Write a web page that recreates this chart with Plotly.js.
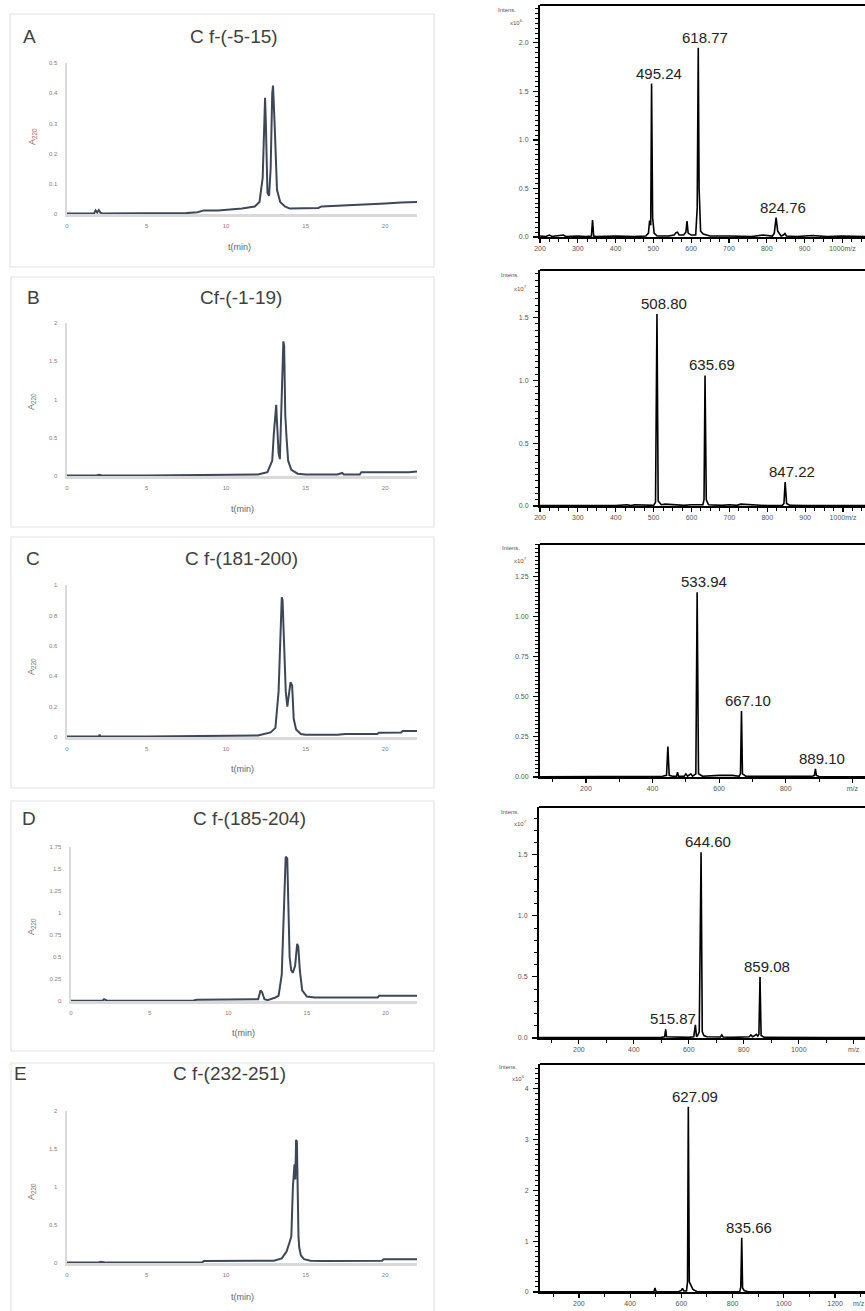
<!DOCTYPE html>
<html><head><meta charset="utf-8">
<script src="https://cdn.plot.ly/plotly-3.0.1.min.js"></script>
<style>html,body{margin:0;padding:0;background:#fff}#chart{width:865px;height:1311px}</style>
</head><body><div id="chart"></div>
<script>
// ---------- Chromatogram data (t in min, absorbance A220) ----------
const titles = ['C f-(-5-15)', 'Cf-(-1-19)', 'C f-(181-200)', 'C f-(185-204)', 'C f-(232-251)'];
const letters = ['A', 'B', 'C', 'D', 'E'];

const chromA_t = [0, 1.7, 1.8, 1.9, 2.0, 2.1, 2.2, 3, 5, 7.5, 8.2, 8.6, 9.5, 10, 11, 11.8, 12.1, 12.3, 12.4, 12.45, 12.5, 12.6, 12.7, 12.8, 12.9, 12.95, 13.05, 13.2, 13.4, 13.7, 14, 15, 15.8, 16, 17, 18, 19, 20, 21, 22];
const chromA_A = [0.002, 0.002, 0.012, 0.005, 0.013, 0.004, 0.002, 0.002, 0.002, 0.003, 0.006, 0.012, 0.012, 0.014, 0.018, 0.025, 0.04, 0.12, 0.33, 0.385, 0.3, 0.07, 0.06, 0.15, 0.4, 0.425, 0.3, 0.08, 0.04, 0.025, 0.018, 0.018, 0.02, 0.025, 0.027, 0.029, 0.032, 0.035, 0.038, 0.04];

const chromB_t = [0, 1.8, 2.0, 2.3, 5, 8, 8.1, 10, 12, 12.6, 12.9, 13.0, 13.1, 13.15, 13.2, 13.3, 13.38, 13.45, 13.5, 13.6, 13.65, 13.72, 13.8, 13.9, 14.1, 14.5, 15, 17, 17.3, 17.4, 18.4, 18.5, 20, 21.5, 22];
const chromB_A = [0.005, 0.005, 0.015, 0.005, 0.005, 0.01, 0.02, 0.02, 0.02, 0.05, 0.2, 0.55, 0.9, 0.93, 0.7, 0.3, 0.22, 0.8, 1.3, 1.76, 1.7, 0.8, 0.5, 0.2, 0.08, 0.03, 0.02, 0.02, 0.04, 0.02, 0.02, 0.05, 0.05, 0.05, 0.06];

const chromC_t = [0, 2, 2.05, 2.1, 5, 7.5, 9, 10, 12, 12.8, 13.1, 13.3, 13.4, 13.5, 13.55, 13.65, 13.75, 13.85, 13.95, 14.05, 14.15, 14.25, 14.4, 14.7, 15, 17, 17.5, 19.5, 19.6, 21, 21.1, 22];
const chromC_A = [0.003, 0.003, 0.015, 0.003, 0.003, 0.005, 0.01, 0.01, 0.01, 0.03, 0.06, 0.3, 0.7, 0.92, 0.9, 0.6, 0.3, 0.2, 0.3, 0.36, 0.34, 0.12, 0.05, 0.02, 0.015, 0.015, 0.02, 0.02, 0.028, 0.03, 0.04, 0.04];

const chromD_t = [0, 2, 2.1, 2.3, 5, 7.8, 8, 10, 11.9, 12.05, 12.15, 12.3, 12.5, 13, 13.2, 13.4, 13.55, 13.65, 13.75, 13.85, 13.9, 14.0, 14.1, 14.25, 14.38, 14.45, 14.55, 14.7, 15, 15.5, 19.5, 19.6, 22];
const chromD_A = [0.003, 0.003, 0.02, 0.003, 0.003, 0.005, 0.015, 0.015, 0.02, 0.12, 0.1, 0.02, 0.01, 0.04, 0.06, 0.3, 1.2, 1.64, 1.62, 1.0, 0.5, 0.35, 0.32, 0.4, 0.65, 0.62, 0.35, 0.12, 0.05, 0.04, 0.04, 0.06, 0.06];

const chromE_t = [0, 2, 2.1, 2.5, 5, 8.5, 8.6, 10, 13, 13.5, 13.8, 14.0, 14.1, 14.2, 14.3, 14.35, 14.4, 14.45, 14.5, 14.55, 14.6, 14.7, 14.9, 15.3, 16, 19.8, 19.9, 22];
const chromE_A = [0.005, 0.005, 0.015, 0.005, 0.005, 0.01, 0.025, 0.025, 0.03, 0.06, 0.15, 0.28, 0.35, 1.0, 1.3, 1.1, 1.62, 1.6, 0.9, 0.35, 0.2, 0.1, 0.05, 0.03, 0.025, 0.03, 0.05, 0.05];

const chromYMax = [0.5, 2, 1, 1.75, 2];
const chromYStep = [0.1, 0.5, 0.2, 0.25, 0.5];
const chromXTicks = [0, 5, 10, 15, 20];

// ---------- Mass spectra data (m/z, intensity) ----------
const specA_mz = [200, 215, 225, 232, 240, 262, 268, 300, 320, 336, 339, 342, 350, 400, 450, 480, 487, 490, 493, 495.24, 498, 502, 510, 540, 555, 560, 564, 568, 580, 586, 589, 592, 600, 612, 616, 618.77, 621, 625, 632, 650, 700, 760, 790, 815, 820, 824.76, 829, 838, 844, 848, 852, 880, 920, 960, 1000, 1060];
const specA_int = [0.01, 0.005, 0.02, 0.005, 0.01, 0.02, 0.005, 0.01, 0.005, 0.01, 0.175, 0.01, 0.005, 0.01, 0.005, 0.01, 0.04, 0.17, 0.12, 1.58, 0.2, 0.04, 0.01, 0.01, 0.02, 0.045, 0.05, 0.02, 0.02, 0.05, 0.165, 0.04, 0.02, 0.02, 0.3, 1.95, 0.5, 0.06, 0.03, 0.01, 0.01, 0.005, 0.02, 0.01, 0.04, 0.2, 0.06, 0.01, 0.02, 0.035, 0.01, 0.005, 0.015, 0.005, 0.01, 0.005];

const specB_mz = [200, 300, 400, 430, 440, 450, 500, 505, 508.8, 512, 520, 530, 580, 600, 630, 633, 635.69, 639, 645, 680, 700, 720, 730, 800, 840, 844, 847.22, 851, 860, 900, 1000, 1058];
const specB_int = [0.003, 0.003, 0.003, 0.01, 0.003, 0.01, 0.005, 0.03, 1.53, 0.04, 0.01, 0.015, 0.005, 0.01, 0.01, 0.05, 1.04, 0.05, 0.01, 0.005, 0.01, 0.005, 0.015, 0.003, 0.005, 0.02, 0.19, 0.02, 0.005, 0.003, 0.003, 0.003];

const specC_mz = [62, 200, 300, 400, 430, 442, 446, 450, 460, 472, 475, 478, 495, 500, 505, 515, 520, 530, 533.94, 538, 545, 550, 600, 640, 660, 664, 667.1, 670, 680, 750, 850, 880, 886, 889.1, 892, 900, 1038];
const specC_int = [0.002, 0.002, 0.002, 0.003, 0.005, 0.01, 0.19, 0.01, 0.005, 0.005, 0.03, 0.005, 0.005, 0.02, 0.005, 0.02, 0.005, 0.02, 1.15, 0.02, 0.01, 0.005, 0.01, 0.01, 0.005, 0.02, 0.41, 0.02, 0.005, 0.005, 0.003, 0.005, 0.01, 0.05, 0.01, 0.003, 0.002];

const specD_mz = [55, 300, 450, 500, 512, 515.87, 519, 560, 600, 618, 624, 628, 632, 638, 644.6, 649, 655, 665, 700, 715, 720, 725, 760, 800, 820, 826, 832, 840, 846, 851, 855, 859.08, 863, 875, 950, 1100, 1241];
const specD_int = [0.003, 0.003, 0.003, 0.005, 0.01, 0.07, 0.01, 0.005, 0.005, 0.01, 0.107, 0.01, 0.02, 0.05, 1.52, 0.05, 0.02, 0.01, 0.005, 0.008, 0.025, 0.008, 0.005, 0.005, 0.01, 0.025, 0.01, 0.02, 0.03, 0.015, 0.03, 0.5, 0.02, 0.005, 0.003, 0.003, 0.003];

const specE_mz = [48, 200, 400, 480, 493, 497, 501, 560, 590, 600, 604, 610, 620, 624, 627.09, 631, 638, 645, 660, 700, 800, 828, 832, 835.66, 839, 845, 860, 1000, 1317];
const specE_int = [0.005, 0.005, 0.005, 0.005, 0.01, 0.08, 0.01, 0.005, 0.01, 0.03, 0.07, 0.02, 0.02, 0.2, 3.65, 0.2, 0.12, 0.05, 0.01, 0.005, 0.005, 0.01, 0.1, 1.07, 0.08, 0.03, 0.005, 0.005, 0.005];

// labelled peaks
const peaksA_mz = [495.24, 618.77, 824.76], peaksA_int = [1.58, 1.95, 0.2];
const peaksB_mz = [508.80, 635.69, 847.22], peaksB_int = [1.53, 1.04, 0.19];
const peaksC_mz = [533.94, 667.10, 889.10], peaksC_int = [1.15, 0.41, 0.05];
const peaksD_mz = [515.87, 644.60, 859.08], peaksD_int = [0.07, 1.52, 0.5];
const peaksE_mz = [627.09, 835.66], peaksE_int = [3.65, 1.07];

const specExp = [6, 7, 7, 7, 6];
const specYStep = [0.5, 0.5, 0.25, 0.5, 1];
const specYMinor = [0.05, 0.05, 0.025, 0.1, 0.1];
const specXTickVals = [
  [200, 300, 400, 500, 600, 700, 800, 900, 1000],
  [200, 300, 400, 500, 600, 700, 800, 900, 1000],
  [200, 400, 600, 800, 1000],
  [200, 400, 600, 800, 1000, 1200],
  [200, 400, 600, 800, 1000, 1200]
];
const specXTickText = [
  ['200', '300', '400', '500', '600', '700', '800', '900', '1000m/z'],
  ['200', '300', '400', '500', '600', '700', '800', '900', '1000m/z'],
  ['200', '400', '600', '800', 'm/z'],
  ['200', '400', '600', '800', '1000', 'm/z'],
  ['200', '400', '600', '800', '1000', '1200']
];
const specXMinor = [25, 25, 100, 100, 100];

// ---------- layout geometry (pixels) ----------
const W = 865, H = 1311;
const fx = p => p / W, fy = p => 1 - p / H;
const FONT = '"Liberation Sans", Arial, sans-serif';

const chromT = [chromA_t, chromB_t, chromC_t, chromD_t, chromE_t];
const chromV = [chromA_A, chromB_A, chromC_A, chromD_A, chromE_A];
const chromGeo = [
  {x0: 67, x1: 417, yb: 214, yt: 63, box: [10, 14, 434, 267], title: [234, 36], letter: [30, 36], xt: [240, 247], yt2: [32, 137]},
  {x0: 67, x1: 417, yb: 476, yt: 323, box: [11, 277, 434, 527], title: [241, 298], letter: [33, 298], xt: [242, 509], yt2: [31, 402]},
  {x0: 67, x1: 417, yb: 737, yt: 585, box: [11, 537, 434, 788], title: [241, 558], letter: [33, 558], xt: [242, 769], yt2: [31, 667]},
  {x0: 71, x1: 417, yb: 1001, yt: 847, box: [11, 801, 434, 1051], title: [249, 818], letter: [29, 818], xt: [243, 1033], yt2: [31, 927]},
  {x0: 67, x1: 417, yb: 1263, yt: 1111, box: [11, 1063, 434, 1330], title: [230, 1073], letter: [20, 1073], xt: [242, 1297], yt2: [31, 1192]}
];

const specMz = [specA_mz, specB_mz, specC_mz, specD_mz, specE_mz];
const specInt = [specA_int, specB_int, specC_int, specD_int, specE_int];
const peakMz = [peaksA_mz, peaksB_mz, peaksC_mz, peaksD_mz, peaksE_mz];
const peakInt = [peaksA_int, peaksB_int, peaksC_int, peaksD_int, peaksE_int];
const specGeo = [
  {x0: 540, yb: 237, yt: 5, xr: [200, 1060], yr: [0, 2.39], intens: [507, 10], exp: [516, 22]},
  {x0: 540, yb: 506, yt: 270, xr: [200, 1058], yr: [0, 1.88], intens: [510, 275], exp: [520, 288]},
  {x0: 540, yb: 777, yt: 544, xr: [62, 1038], yr: [0, 1.45], intens: [511, 548], exp: [520, 560]},
  {x0: 539, yb: 1038, yt: 807, xr: [55, 1241], yr: [0, 1.89], intens: [510, 812], exp: [520, 823]},
  {x0: 540, yb: 1292, yt: 1064, xr: [48, 1317], yr: [0, 4.49], intens: [508, 1067], exp: [518, 1078]}
];

const data = [];
const layout = {
  width: W, height: H,
  margin: {l: 0, r: 0, t: 0, b: 0},
  paper_bgcolor: '#fff', plot_bgcolor: 'rgba(0,0,0,0)',
  showlegend: false,
  font: {family: FONT},
  shapes: [], annotations: []
};

// chromatograms
for (let i = 0; i < 5; i++) {
  const g = chromGeo[i], n = i + 1;
  const xa = 'xaxis' + n, ya = 'yaxis' + n;
  data.push({x: chromT[i], y: chromV[i], type: 'scatter', mode: 'lines',
    xaxis: 'x' + n, yaxis: 'y' + n,
    line: {color: '#3d4757', width: 2}, hoverinfo: 'skip'});
  const yticks = [];
  for (let v = 0; v <= chromYMax[i] + 1e-9; v += chromYStep[i]) yticks.push(+v.toFixed(4));
  layout[xa] = {domain: [fx(g.x0), fx(g.x1)], range: [0, 22], anchor: 'y' + n,
    showline: true, linecolor: '#d9d9d9', linewidth: 2.5, showgrid: false, zeroline: false,
    ticks: '', tickmode: 'array', tickvals: chromXTicks, ticklabelstandoff: 4,
    tickfont: {size: 6, color: '#8a7c78', family: FONT}};
  layout[ya] = {domain: [fy(g.yb), fy(g.yt)], range: [0, chromYMax[i]], anchor: 'x' + n,
    showline: true, linecolor: '#d9d9d9', linewidth: 2.5, showgrid: false, zeroline: false,
    ticks: '', tickmode: 'array', tickvals: yticks, ticklabelstandoff: 6,
    tickfont: {size: 6, color: '#8a7c78', family: FONT}};
  layout.shapes.push({type: 'rect', xref: 'paper', yref: 'paper',
    x0: fx(g.box[0]), x1: fx(g.box[2]), y0: fy(g.box[3]), y1: fy(g.box[1]),
    line: {color: '#e3e3e3', width: 1.2}, fillcolor: 'rgba(0,0,0,0)', layer: 'below'});
  layout.annotations.push({xref: 'paper', yref: 'paper', x: fx(g.title[0]), y: fy(g.title[1]),
    text: titles[i], showarrow: false, xanchor: 'center', yanchor: 'middle',
    font: {size: 19, color: '#404040', family: FONT}});
  layout.annotations.push({xref: 'paper', yref: 'paper', x: fx(g.letter[0]), y: fy(g.letter[1]),
    text: letters[i], showarrow: false, xanchor: 'center', yanchor: 'middle',
    font: {size: 19, color: '#404040', family: FONT}});
  layout.annotations.push({xref: 'paper', yref: 'paper', x: fx(g.xt[0]), y: fy(g.xt[1]),
    text: 't(min)', showarrow: false, xanchor: 'center', yanchor: 'middle',
    font: {size: 9, color: '#5d6472', family: FONT}});
  layout.annotations.push({xref: 'paper', yref: 'paper', x: fx(g.yt2[0]), y: fy(g.yt2[1]),
    text: 'A<sub>220</sub>', showarrow: false, xanchor: 'center', yanchor: 'middle', textangle: -90,
    font: {size: 9, color: '#8a6f66', family: FONT}});
}

// mass spectra
for (let i = 0; i < 5; i++) {
  const g = specGeo[i], n = i + 6;
  const xa = 'xaxis' + n, ya = 'yaxis' + n;
  data.push({x: specMz[i], y: specInt[i], type: 'scatter', mode: 'lines',
    xaxis: 'x' + n, yaxis: 'y' + n,
    line: {color: '#000', width: 1.6}, hoverinfo: 'skip'});
  layout[xa] = {domain: [fx(g.x0), 1], range: g.xr, anchor: 'y' + n,
    showline: true, linecolor: '#000', linewidth: 2, showgrid: false, zeroline: false,
    ticks: 'outside', ticklen: 4, tickwidth: 1.2, tickcolor: '#000',
    tickmode: 'array', tickvals: specXTickVals[i], ticktext: specXTickText[i],
    minor: {ticks: 'outside', ticklen: 2.5, tickwidth: 1, tickcolor: '#000', dtick: specXMinor[i], tick0: 0, showgrid: false},
    tickfont: {size: 7, color: '#555', family: FONT}};
  layout[ya] = {domain: [fy(g.yb), fy(g.yt)], range: g.yr, anchor: 'x' + n,
    showline: true, linecolor: '#000', linewidth: 2, showgrid: false, zeroline: false,
    ticks: 'outside', ticklen: 5, tickwidth: 1.2, tickcolor: '#000',
    tickmode: 'linear', tick0: 0, dtick: specYStep[i],
    tickformat: i === 2 ? '.2f' : (i === 4 ? 'd' : '.1f'),
    minor: {ticks: 'outside', ticklen: 3, tickwidth: 1, tickcolor: '#000', dtick: specYMinor[i], tick0: 0, showgrid: false},
    ticklabelstandoff: 3,
    tickfont: {size: 7, color: '#555', family: FONT}};
  // top frame line
  layout.shapes.push({type: 'line', xref: 'paper', yref: 'paper',
    x0: fx(g.x0), x1: 1, y0: fy(g.yt), y1: fy(g.yt), line: {color: '#000', width: 2}});
  layout.annotations.push({xref: 'paper', yref: 'paper', x: fx(g.intens[0]), y: fy(g.intens[1]),
    text: 'Intens.', showarrow: false, xanchor: 'center', yanchor: 'middle',
    font: {size: 6, color: '#555', family: FONT}});
  layout.annotations.push({xref: 'paper', yref: 'paper', x: fx(g.exp[0]), y: fy(g.exp[1]),
    text: 'x10<sup>' + specExp[i] + '</sup>', showarrow: false, xanchor: 'center', yanchor: 'middle',
    font: {size: 6, color: '#555', family: FONT}});
  for (let k = 0; k < peakMz[i].length; k++) {
    layout.annotations.push({xref: 'x' + n, yref: 'y' + n, x: peakMz[i][k], y: peakInt[i][k],
      text: peakMz[i][k].toFixed(2), showarrow: false, xanchor: 'center', yanchor: 'bottom',
      xshift: 7, yshift: 0, font: {size: 15, color: '#222', family: FONT}});
  }
}
// m/z label after last tick in panel E
layout.annotations.push({xref: 'paper', yref: 'paper', x: fx(851), y: fy(1303),
  text: 'm/z', showarrow: false, xanchor: 'left', yanchor: 'middle',
  font: {size: 7, color: '#555', family: FONT}});

Plotly.newPlot('chart', data, layout, {staticPlot: true, displayModeBar: false});
</script></body></html>
